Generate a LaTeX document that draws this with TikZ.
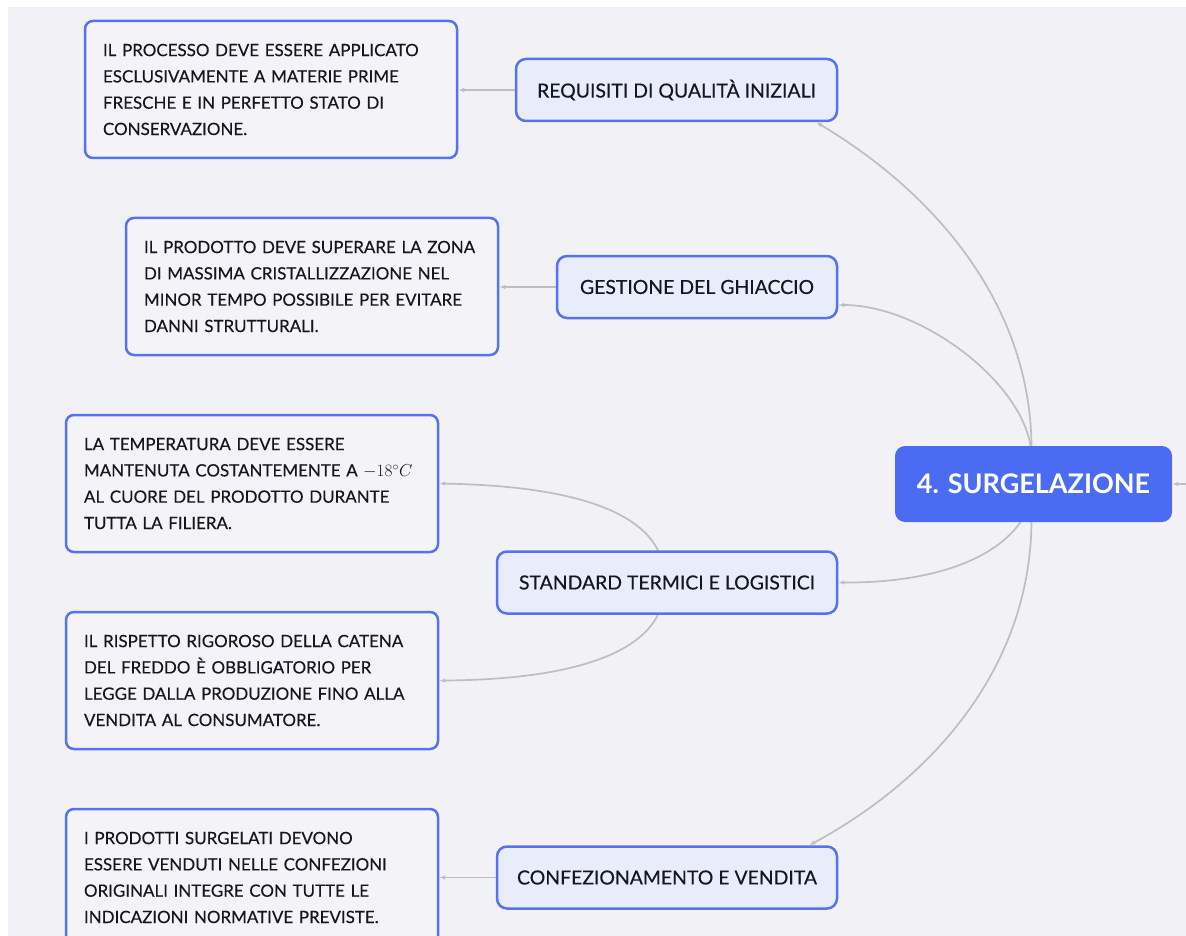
\documentclass[tikz,border=0pt]{standalone}
\usepackage{fontspec}
\setmainfont{Lato}
\newfontfamily\boxfont{Lato}[UprightFeatures={FakeBold=0.35}]
\usetikzlibrary{calc,arrows.meta,backgrounds}

\definecolor{pagebg}{HTML}{F1F1F6}
\definecolor{frameblue}{HTML}{5672EC}
\definecolor{hubblue}{HTML}{4B6CF2}
\definecolor{topicfill}{HTML}{E9ECFB}
\definecolor{notefill}{HTML}{F4F4F8}
\definecolor{linkgray}{HTML}{BDBDC2}
\definecolor{ink}{HTML}{16161E}

\begin{document}
\begin{tikzpicture}[x=1pt,y=-1pt,
  hubbox/.style={fill=hubblue, rounded corners=10pt, minimum width=277pt,
    minimum height=76pt, text=white, font=\fontsize{27}{30}\selectfont\bfseries},
  topic/.style={draw=frameblue, line width=2.5pt, fill=topicfill,
    rounded corners=10pt, minimum height=62pt, text=ink,
    font=\boxfont\fontsize{19.4}{22}\selectfont},
  note/.style={draw=frameblue, line width=2.5pt, fill=notefill,
    rounded corners=8pt, minimum height=137pt, text width=336pt,
    align=left, inner xsep=18pt, text=ink,
    font=\boxfont\fontsize{16.95}{26.3}\selectfont},
  link/.style={draw=linkgray, line width=1.7pt,
    -{Latex[length=6pt,width=4.5pt]}},
]
\useasboundingbox (0,0) rectangle (1186,936);
\clip (0,0) rectangle (1186,936);

% central topic
\node[hubbox] (hub) at (1033.5,484) {4. SURGELAZIONE};

% main branches
\node[topic, minimum width=321pt] (req) at (676.5,90) {REQUISITI DI QUALITÀ INIZIALI};
\node[topic, minimum width=280pt] (ice) at (697,287) {GESTIONE DEL GHIACCIO};
\node[topic, minimum width=340pt] (std) at (667,582.5) {STANDARD TERMICI E LOGISTICI};
\node[topic, minimum width=340pt] (pack) at (667,877.5) {CONFEZIONAMENTO E VENDITA};

% detail notes
\node[note] (n1) at (271,89.5) {IL PROCESSO DEVE ESSERE APPLICATO\\
  ESCLUSIVAMENTE A MATERIE PRIME\\ FRESCHE E IN PERFETTO STATO DI\\
  CONSERVAZIONE.};
\node[note] (n2) at (312,286.5) {IL PRODOTTO DEVE SUPERARE LA ZONA\\
  DI MASSIMA CRISTALLIZZAZIONE NEL\\ MINOR TEMPO POSSIBILE PER EVITARE\\
  DANNI STRUTTURALI.};
\node[note] (n3) at (252,483.5) {LA TEMPERATURA DEVE ESSERE\\
  MANTENUTA COSTANTEMENTE A $-18^{\circ}C$\\ AL CUORE DEL PRODOTTO DURANTE\\
  TUTTA LA FILIERA.};
\node[note] (n4) at (252,680.5) {IL RISPETTO RIGOROSO DELLA CATENA\\
  DEL FREDDO È OBBLIGATORIO PER\\ LEGGE DALLA PRODUZIONE FINO ALLA\\
  VENDITA AL CONSUMATORE.};
\node[note] (n5) at (252,877.5) {I PRODOTTI SURGELATI DEVONO\\
  ESSERE VENDUTI NELLE CONFEZIONI\\ ORIGINALI INTEGRE CON TUTTE LE\\
  INDICAZIONI NORMATIVE PREVISTE.};

\coordinate (parent) at (1200,484);

\begin{scope}[on background layer]
  % page
  \fill[white] (0,0) rectangle (1186,936);
  \fill[pagebg] (8,7) rectangle (1186,936);

  % hub to branches
  \draw[link] (parent) -- (hub.east);
  \draw[link] ($(hub.north)+(-2,0)$) .. controls (1030,300) and (930,190)
    .. ($(req.south east)+(-22,0)$);
  \draw[link] ($(hub.north)+(-3,0)$) .. controls (1020,380) and (920,305)
    .. ($(ice.east)+(0,18)$);
  \draw[link] ($(hub.south)+(-13,0)$) .. controls (990,565) and (920,583)
    .. (std.east);
  \draw[link] ($(hub.south)+(-2,0)$) .. controls (1030,670) and (930,780)
    .. ($(pack.north east)+(-29,0)$);

  % branches to notes
  \draw[link] (req.west) -- (req.west -| n1.east);
  \draw[link] (ice.west) -- (ice.west -| n2.east);
  \draw[link] ($(std.north)+(-9,0)$) .. controls (630,495) and (520,485)
    .. (n3.east);
  \draw[link] ($(std.south)+(-9,0)$) .. controls (630,670) and (520,680)
    .. (n4.east);
  \draw[link] (pack.west) -- (pack.west -| n5.east);
\end{scope}
\end{tikzpicture}
\end{document}
